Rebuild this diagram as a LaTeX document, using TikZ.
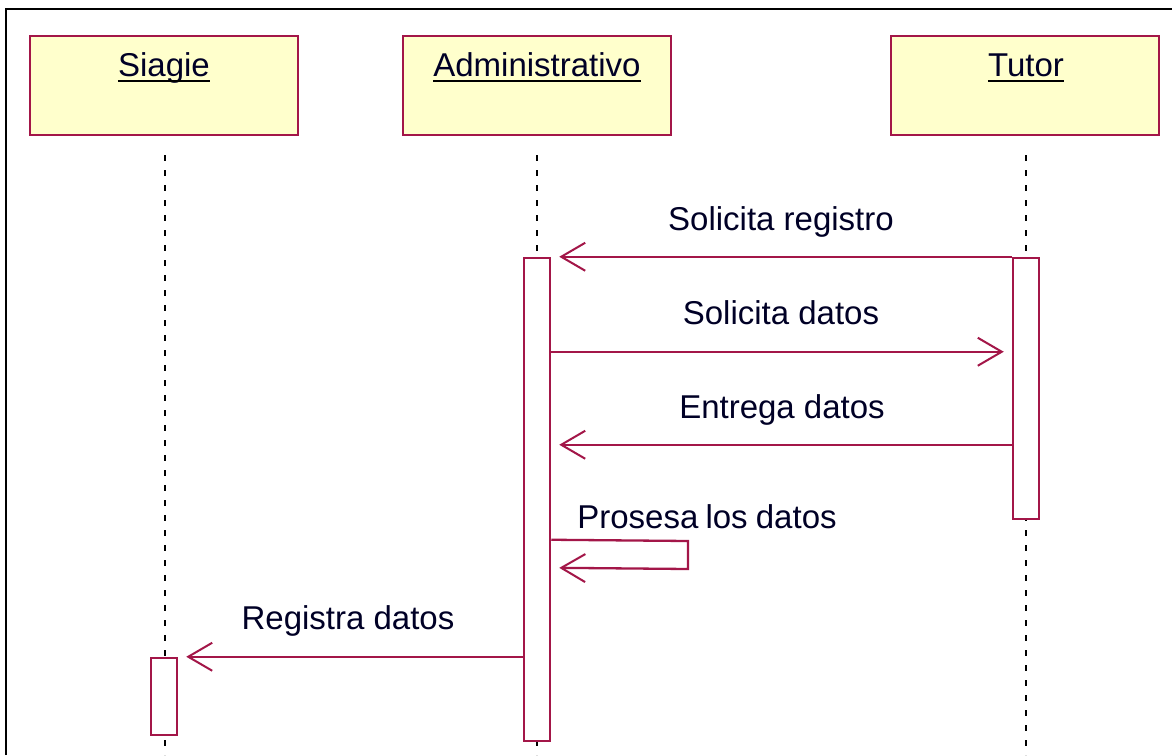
\documentclass[tikz,border=0pt]{standalone}
\usepackage{fontspec}
\setmainfont{Liberation Sans}
\usetikzlibrary{arrows.meta}
\definecolor{umlred}{RGB}{163,22,72}
\definecolor{umlfill}{RGB}{255,255,204}
\begin{document}
\begin{tikzpicture}[x=1pt,y=-1pt,
  headbox/.style={draw=umlred,fill=umlfill,line width=2.8pt,minimum width=268pt,minimum height=99pt,inner sep=0pt},
  headtxt/.style={anchor=base,inner sep=0pt,font=\fontsize{33}{40}\selectfont,text=black!85!blue},
  actbox/.style={draw=umlred,fill=white,line width=2.5pt,minimum width=26pt,inner sep=0pt},
  life/.style={black,line width=2.2pt,dash pattern=on 6pt off 9pt},
  msg/.style={umlred,line width=2.3pt,-{Straight Barb[length=24pt,width=28pt,line width=2pt]},shorten >=8pt},
  lbl/.style={anchor=base,inner sep=0pt,font=\fontsize{33}{40}\selectfont,text=black!85!blue}
]
\useasboundingbox (0,0) rectangle (1172,755);
\fill[white] (0,0) rectangle (1172,755);
% frame
\draw[black,line width=2.8pt] (6,755) -- (6,9) -- (1172,9);
% heads
\node[headbox] (hS) at (164,85.5) {};
\node[headbox] (hA) at (537,85.5) {};
\node[headbox] (hT) at (1025,85.5) {};
\node[headtxt] (tS) at (164,76) {Siagie};
\node[headtxt] (tA) at (537,76) {Administrativo};
\node[headtxt] (tT) at (1026,76) {Tutor};
\foreach \t in {tS,tA,tT}{
  \draw[black,line width=2.2pt] ([yshift=-5pt]\t.base west) -- ([yshift=-5pt]\t.base east);
}
% lifeline ends
\coordinate (eS) at (165,755);
\coordinate (eA) at (537,755);
\coordinate (eT) at (1026,755);
\coordinate (sS) at (165,155);
\coordinate (sA) at (537,155);
\coordinate (sT) at (1026,155);
\draw[life] (sS) -- (eS);
\draw[life] (sA) -- (eA);
\draw[life] (sT) -- (eT);
% activations
\node[actbox,minimum height=483pt] (aA) at (537,499.5) {};
\node[actbox,minimum height=261pt] (aT) at (1026,388.5) {};
\node[actbox,minimum height=77pt] (aS) at (164,696.5) {};
% messages
\draw[msg] (aT.north west) -- (aA.north east);
\node[lbl] (l1) at (781,230) {Solicita registro};
\draw[msg] ([yshift=-95pt]aA.north east) -- ([yshift=-95pt]aT.north west);
\node[lbl] (l2) at (781,324) {Solicita datos};
\draw[msg] ([yshift=-188pt]aT.north west) -- ([yshift=-188pt]aA.north east);
\node[lbl] (l3) at (782,418) {Entrega datos};
\coordinate (s1) at (688,541);
\coordinate (s2) at (688,569);
\draw[msg] ([yshift=-283pt]aA.north east) -- (s1) -- (s2) -- ([yshift=-311pt]aA.north east);
\node[lbl] (l4) at (707,528) {Prosesa\kern-2pt\ los\kern-1pt\ datos};
\draw[msg] (aA.west |- aS.north east) -- (aS.north east);
\node[lbl] (l5) at (348,629) {Registra datos};
\end{tikzpicture}
\end{document}
